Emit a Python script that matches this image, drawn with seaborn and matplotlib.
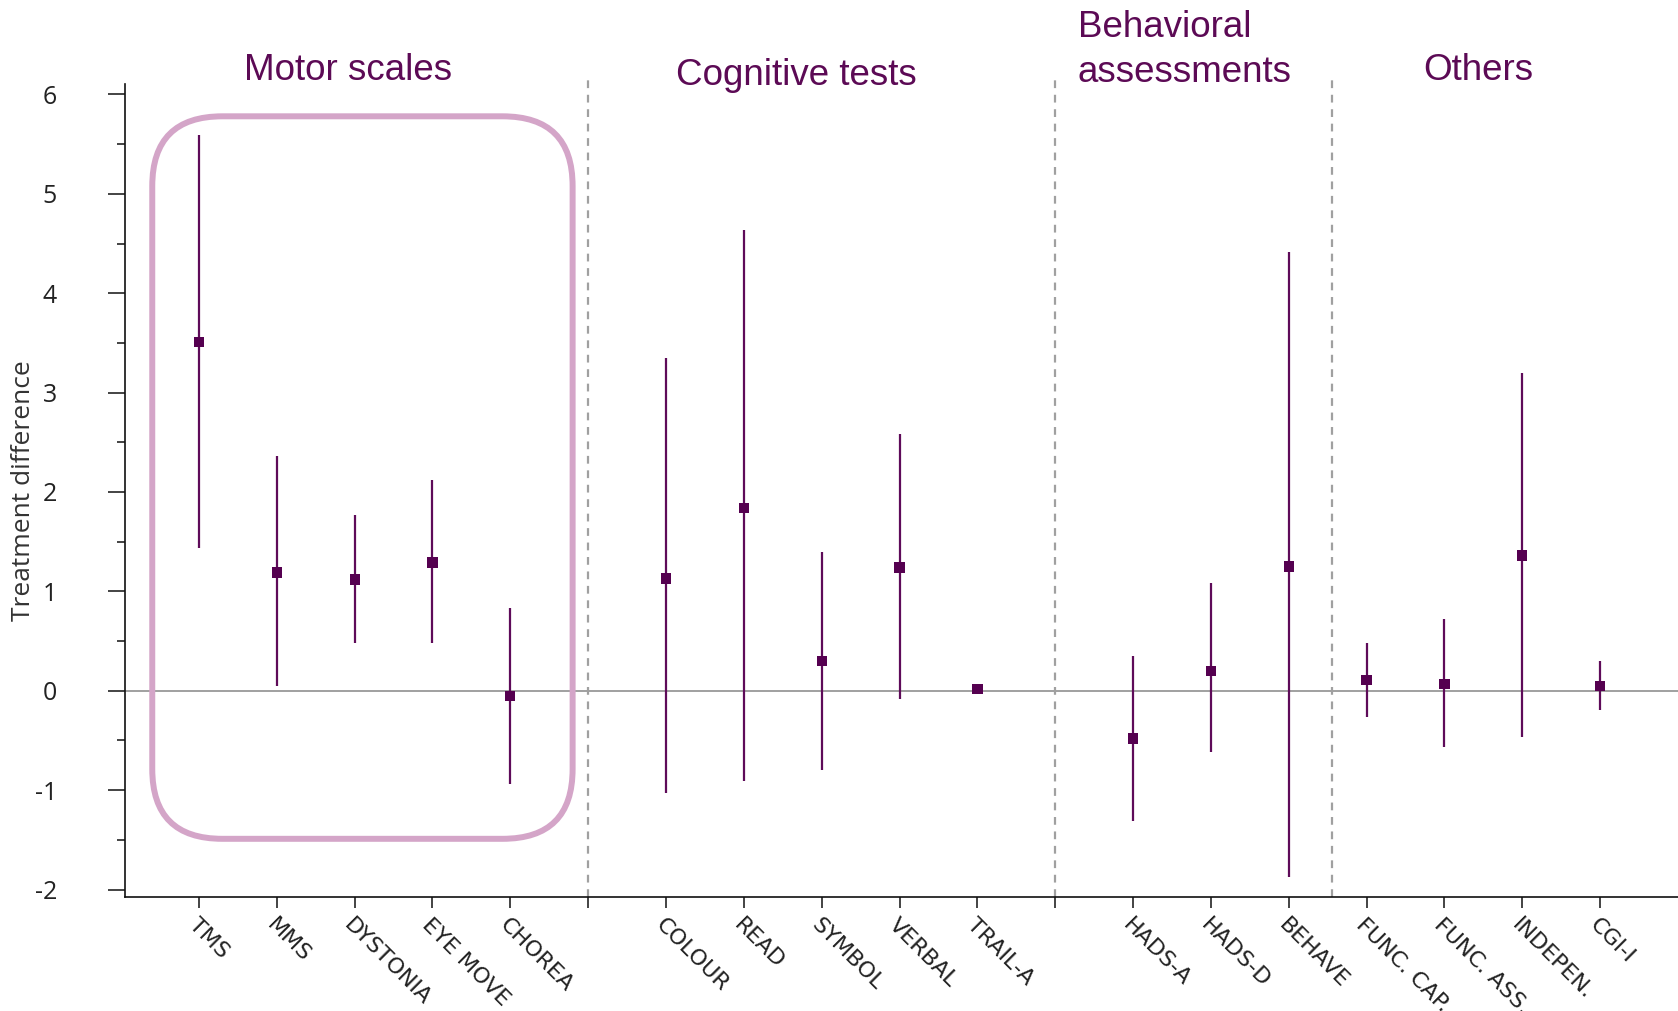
import numpy as np
import pandas as pd
import matplotlib
matplotlib.use("Agg")
import matplotlib.pyplot as plt
from matplotlib.patches import FancyBboxPatch
from matplotlib.ticker import MultipleLocator
import seaborn as sns

# ---- data -------------------------------------------------------------
group_names = ["Motor scales", "Cognitive tests", "Behavioral\nassessments", "Others"]
group_sizes = [5, 5, 3, 4]
spare_slot_after = [True, True, False]   # empty category slot after a group

labels = ["TMS", "MMS", "DYSTONIA", "EYE MOVE", "CHOREA",
          "COLOUR", "READ", "SYMBOL", "VERBAL", "TRAIL-A",
          "HADS-A", "HADS-D", "BEHAVE",
          "FUNC. CAP.", "FUNC. ASS.", "INDEPEN.", "CGI-I"]
estimate = [3.51, 1.19, 1.12, 1.29, -0.05,
            1.13, 1.84, 0.30, 1.24, 0.02,
            -0.48, 0.20, 1.25,
            0.11, 0.07, 1.36, 0.05]
ci_low = [1.44, 0.05, 0.48, 0.48, -0.94,
          -1.03, -0.91, -0.80, -0.08, 0.01,
          -1.31, -0.62, -1.87,
          -0.26, -0.57, -0.47, -0.19]
ci_high = [5.59, 2.36, 1.77, 2.12, 0.83,
           3.35, 4.64, 1.40, 2.58, 0.03,
           0.35, 1.08, 4.41,
           0.48, 0.72, 3.20, 0.30]

# ---- category slots ---------------------------------------------------
positions, group_of = [], []
slot = 0
for g, n in enumerate(group_sizes):
    for _ in range(n):
        positions.append(slot)
        group_of.append(group_names[g])
        slot += 1
    if g < len(spare_slot_after) and spare_slot_after[g]:
        slot += 1
n_slots = slot

df = pd.DataFrame({"pos": positions, "label": labels, "estimate": estimate,
                   "low": ci_low, "high": ci_high, "group": group_of})

# ---- styling ----------------------------------------------------------
sns.set_style("ticks")
plt.rcParams["font.family"] = ["DejaVu Sans"]
plt.rcParams["axes.unicode_minus"] = False

HEAD = "#5C0A55"
MARK = "#550050"
LINE = "#5E0B59"
BOX = "#D4A5C8"

fig = plt.figure(figsize=(16.78, 10.11), dpi=100)
ax = fig.add_axes([0.0745, 0.1128, 0.9255, 0.8046])

# reference line at zero
ax.axhline(0, color="#999999", lw=1.3, zorder=1)

# confidence intervals and point estimates
ax.vlines(df["pos"], df["low"], df["high"], color=LINE, lw=1.6, zorder=2)
sns.scatterplot(data=df, x="pos", y="estimate", marker="s", s=55,
                color=MARK, edgecolor="none", linewidth=0, zorder=3,
                ax=ax, legend=False)

ax.set_xlim(-0.95, 19.0)
ax.set_ylim(-2.075, 6.11)

# group separators
group_ends = np.cumsum(group_sizes)
sep_x = []
for g in range(len(group_sizes) - 1):
    last = df["pos"].iloc[group_ends[g] - 1]
    first = df["pos"].iloc[group_ends[g]]
    sep_x.append((last + first) / 2 + (0.05 if first - last == 1 else 0))
for x in sep_x:
    ax.plot([x, x], [-2.075, 6.15], color="#A0A0A0", lw=1.6,
            ls=(0, (3.5, 3)), clip_on=False, zorder=1)

# rounded frame around the motor scales
motor = df[df["group"] == group_names[0]]
x0 = motor["pos"].min() - 0.60
x1 = motor["pos"].max() + 0.80
box = FancyBboxPatch((x0, -1.49), x1 - x0, 5.78 + 1.49,
                     boxstyle="round,pad=0,rounding_size=0.9",
                     mutation_aspect=0.78, transform=ax.transData,
                     fill=False, ec=BOX, lw=4.3, clip_on=False, zorder=4)
ax.add_patch(box)

# axes, ticks, labels
sns.despine(ax=ax, top=True, right=True)
for s in ("left", "bottom"):
    ax.spines[s].set_linewidth(1.2)
    ax.spines[s].set_color("#111111")

ax.set_yticks(np.arange(-2, 7, 1))
ax.yaxis.set_minor_locator(MultipleLocator(0.5))
ax.tick_params(axis="y", which="major", length=12, width=1.1, pad=37,
               labelsize=18, colors="#111111")
ax.tick_params(axis="y", which="minor", length=6, width=1.1, color="#111111")
for t in ax.get_yticklabels():
    t.set_fontfamily(["Open Sans", "DejaVu Sans"])
    t.set_color("#222222")

tick_labels = [""] * n_slots
for p, lab in zip(df["pos"], df["label"]):
    tick_labels[p] = lab
ax.set_xticks(range(n_slots))
ax.set_xticklabels(tick_labels, rotation=-45, ha="left",
                   rotation_mode="anchor", fontsize=16, color="#222222")
ax.tick_params(axis="x", length=8, width=1.1, pad=5, colors="#111111")
for t in ax.get_xticklabels():
    t.set_color("#222222")

ax.set_xlabel("")
ax.set_ylabel("Treatment difference", fontsize=19, color="#333333",
              family=["Open Sans", "DejaVu Sans"], va="center")
ax.yaxis.set_label_coords(-0.0654, 0.5)

# group headings
head_font = dict(family=["Liberation Sans", "DejaVu Sans"], fontsize=26.5,
                 color=HEAD)
fig.text(0.2074, 0.9305, group_names[0], ha="center", va="center", **head_font)
fig.text(0.4744, 0.9255, group_names[1], ha="center", va="center", **head_font)
fig.text(0.6424, 0.9505, group_names[2], ha="left", va="center",
         linespacing=1.40, **head_font)
fig.text(0.8808, 0.9305, group_names[3], ha="center", va="center", **head_font)

fig.savefig("out.png", dpi=100, facecolor="white")
